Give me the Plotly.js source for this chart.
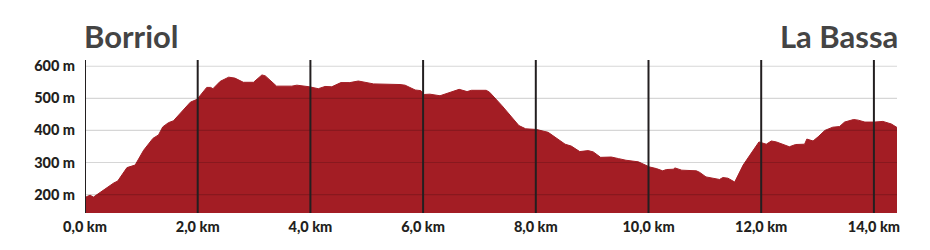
<!DOCTYPE html>
<html>
<head>
<meta charset="utf-8">
<script src="https://cdn.plot.ly/plotly-3.0.1.min.js"></script>
<style>html,body{margin:0;padding:0;background:#fff;}#chart{width:930px;height:250px;}</style>
</head>
<body>
<div id="chart"></div>
<script>
// distance along the route (km)
const distanceKm = [0, 0.09, 0.15, 0.27, 0.36, 0.51, 0.58, 0.745, 0.89, 1.04, 1.205, 1.305, 1.38, 1.48, 1.57, 1.87, 1.99,
  2.16, 2.23, 2.27, 2.40, 2.55, 2.66, 2.81, 2.99, 3.14, 3.20, 3.40, 3.67, 3.76, 3.98, 4.14, 4.26, 4.38, 4.54, 4.70,
  4.85, 5.00, 5.12, 5.59, 5.68, 5.86, 5.96, 6.02, 6.12, 6.30, 6.48, 6.64, 6.78, 6.86, 7.12, 7.18, 7.40, 7.58, 7.70,
  7.82, 8.01, 8.22, 8.35, 8.52, 8.63, 8.78, 8.93, 9.02, 9.15, 9.34, 9.47, 9.60, 9.82, 9.93, 10.02, 10.14, 10.25,
  10.32, 10.44, 10.47, 10.59, 10.85, 10.91, 11.02, 11.26, 11.32, 11.41, 11.53, 11.68, 11.80, 11.96, 12.09, 12.18,
  12.27, 12.50, 12.61, 12.77, 12.81, 12.92, 13.01, 13.13, 13.27, 13.39, 13.48, 13.64, 13.72, 13.84, 14.01, 14.16,
  14.31, 14.41];
// elevation (m)
const elevationM = [191, 198, 192, 207, 216, 236, 242, 284, 292, 338, 375, 386, 411, 424, 430, 488, 497,
  534, 534, 530, 553, 566, 563, 550, 550, 573, 570, 538, 538, 541, 536, 530, 537, 536, 549, 549,
  554, 550, 545, 543, 541, 526, 524, 512, 513, 508, 518, 528, 521, 525, 525, 519, 477, 440, 415,
  405, 403, 394, 378, 357, 351, 334, 337, 333, 316, 317, 312, 307, 302, 292, 286, 281, 274,
  278, 279, 283, 276, 274, 269, 255, 247, 253, 251, 239, 292, 323, 364, 357, 367,
  364, 349, 356, 357, 373, 367, 380, 400, 410, 412, 426, 434, 432, 426, 426, 428,
  420, 409];

const xTickVals = [0, 2, 4, 6, 8, 10, 12, 14];
const xTickText = ["0,0 km", "2,0 km", "4,0 km", "6,0 km", "8,0 km", "10,0 km", "12,0 km", "14,0 km"];
const yTickVals = [200, 300, 400, 500, 600];
const yTickText = ["200 m", "300 m", "400 m", "500 m", "600 m"];
const startName = "Borriol";
const endName = "La Bassa";

const shapes = [];
yTickVals.forEach(v => shapes.push({
  type: 'line', xref: 'paper', yref: 'y', x0: 0, x1: 1, y0: v, y1: v,
  line: {color: 'rgba(0,0,0,0.16)', width: 1.2}, layer: 'above'
}));
xTickVals.forEach(v => shapes.push({
  type: 'line', xref: 'x', yref: 'paper', x0: v, x1: v, y0: 0, y1: 1,
  line: {color: '#231f20', width: 2}, layer: 'above'
}));

const trace = {
  type: 'scatter', mode: 'lines', x: distanceKm, y: elevationM,
  fill: 'tozeroy', fillcolor: '#a31d24', line: {color: '#a31d24', width: 1},
  hoverinfo: 'skip'
};

const tickFont = {size: 14.5, weight: 900, color: '#231f20', family: 'Lato, "Open Sans", sans-serif'};
const titleFont = {size: 31, weight: 'bold', color: '#444444', family: 'Lato, sans-serif'};

const layout = {
  width: 930, height: 250,
  margin: {l: 85, r: 33, t: 60, b: 37, pad: 0},
  paper_bgcolor: '#ffffff', plot_bgcolor: '#ffffff',
  showlegend: false,
  font: {family: 'Lato, "Open Sans", sans-serif', color: '#231f20'},
  xaxis: {
    range: [0, 14.41], showgrid: false, zeroline: false, showline: false,
    tickvals: xTickVals, ticktext: xTickText, ticks: 'outside', ticklen: 1, tickcolor: 'rgba(0,0,0,0)',
    tickfont: tickFont, fixedrange: true
  },
  yaxis: {
    range: [142.5, 619.5], showgrid: false, zeroline: false, showline: false,
    tickvals: yTickVals, ticktext: yTickText, ticks: 'outside', ticklen: 6, tickcolor: 'rgba(0,0,0,0)',
    tickfont: tickFont, fixedrange: true
  },
  shapes: shapes,
  annotations: [
    {text: startName, xref: 'paper', yref: 'paper', x: 0, y: 1, xanchor: 'left', yanchor: 'bottom', yshift: 3, xshift: -3,
     showarrow: false, font: titleFont},
    {text: endName, xref: 'paper', yref: 'paper', x: 1, y: 1, xanchor: 'right', yanchor: 'bottom', yshift: 3, xshift: 3,
     showarrow: false, font: titleFont}
  ]
};

Plotly.newPlot('chart', [trace], layout, {displayModeBar: false, staticPlot: true});
</script>
</body>
</html>
